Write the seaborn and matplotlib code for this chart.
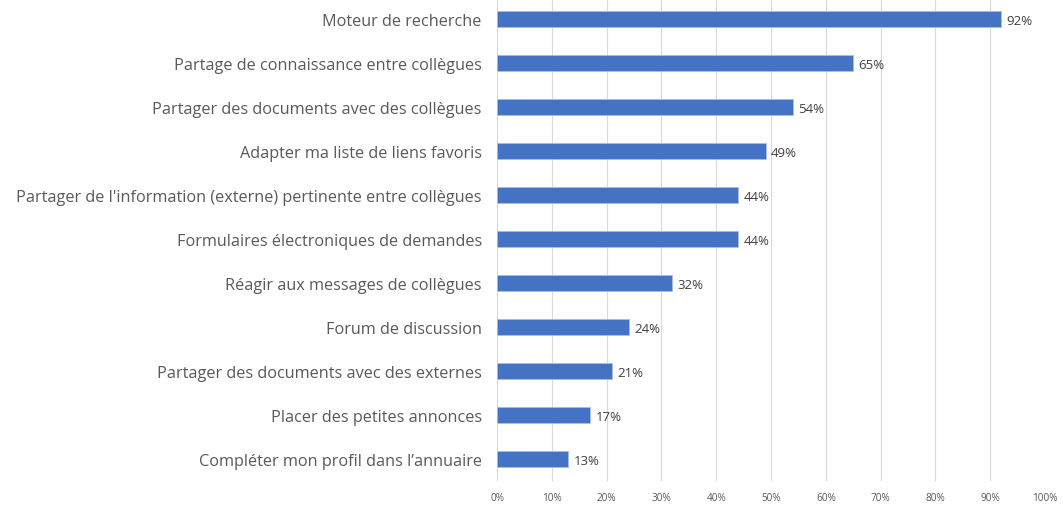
import matplotlib.pyplot as plt
import seaborn as sns
import pandas as pd

categories = [
    "Moteur de recherche",
    "Partage de connaissance entre collègues",
    "Partager des documents avec des collègues",
    "Adapter ma liste de liens favoris",
    "Partager de l'information (externe) pertinente entre collègues",
    "Formulaires électroniques de demandes",
    "Réagir aux messages de collègues",
    "Forum de discussion",
    "Partager des documents avec des externes",
    "Placer des petites annonces",
    "Compléter mon profil dans l’annuaire",
]
values = [0.92, 0.65, 0.54, 0.49, 0.44, 0.44, 0.32, 0.24, 0.21, 0.17, 0.13]
xticks = [i / 10 for i in range(11)]

df = pd.DataFrame({"cat": categories, "val": values})

sns.set_style("white")
plt.rcParams['font.family'] = ['Open Sans', 'DejaVu Sans']

fig = plt.figure(figsize=(10.63, 5.06), dpi=100)
ax = fig.add_axes([0.4676, 0.047, 0.9831 - 0.4676, 0.957])

sns.barplot(data=df, x="val", y="cat", color="#4472C4", width=0.36,
            edgecolor="#A9BDE5", linewidth=0.6, saturation=1, ax=ax, zorder=3)

# étiquettes de valeurs
for i, v in enumerate(values):
    ax.text(v + 0.01, i + 0.04, f"{round(v * 100)}%", va="center", ha="left",
            fontsize=9.5, color="#404040")

ax.set_xlim(0, 1)
ax.set_ylim(len(categories) - 0.5, -0.5)
ax.set_xticks(xticks)
ax.set_xticklabels([f"{int(round(t * 100))}%" for t in xticks], fontsize=7.2, color="#595959")
ax.tick_params(axis="y", labelsize=11.7, labelcolor="#595959", length=0, pad=11)
ax.tick_params(axis="x", length=0, pad=8)
ax.grid(axis="x", color="#D9D9D9", linewidth=0.8, zorder=0)
ax.set_xlabel("")
ax.set_ylabel("")
for s in ax.spines.values():
    s.set_visible(False)

fig.savefig("out.png", dpi=100)
